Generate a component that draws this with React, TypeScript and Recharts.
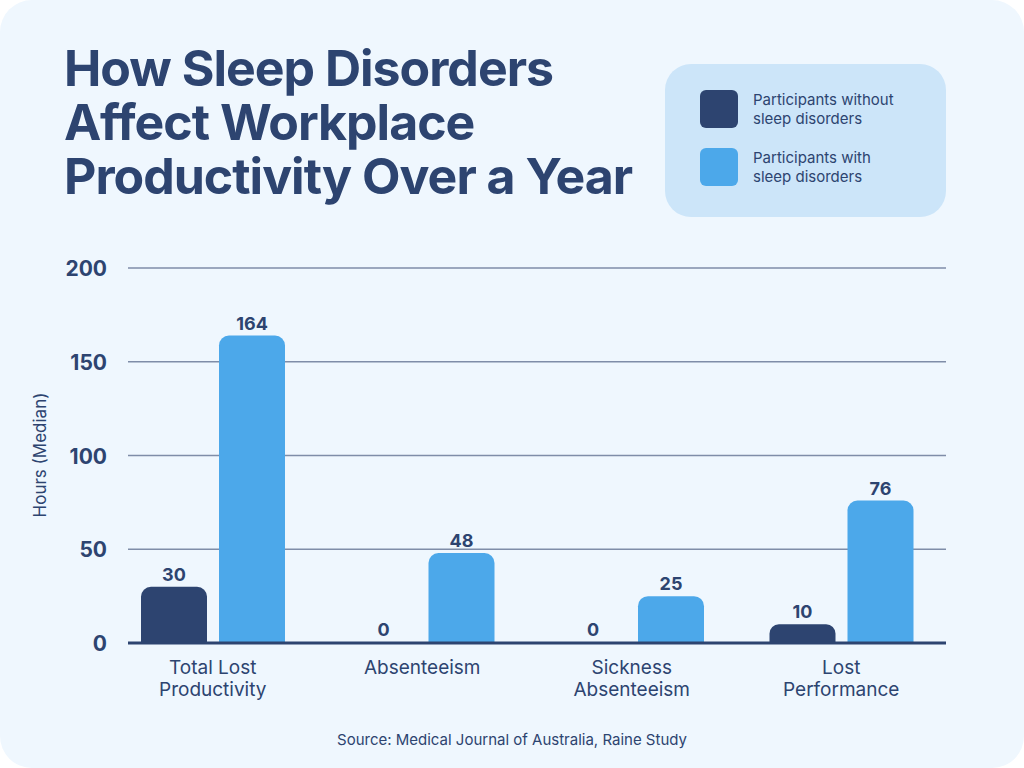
import { BarChart, Bar, XAxis, YAxis, CartesianGrid, LabelList } from "recharts";

const categories = ["Total Lost Productivity", "Absenteeism", "Sickness Absenteeism", "Lost Performance"];
const tickLines = [["Total Lost", "Productivity"], ["Absenteeism"], ["Sickness", "Absenteeism"], ["Lost", "Performance"]];
const withoutDisorders = [30, 0, 0, 10];
const withDisorders = [164, 48, 25, 76];
const yTicks = [0, 50, 100, 150, 200];

const NAVY = "#2D4470";
const BLUE = "#4CA8EA";
const FONT = "Inter, 'Noto Sans', sans-serif";

const data = categories.map((name, i) => ({
  name,
  without: withoutDisorders[i],
  with: withDisorders[i],
}));

const XTick = (props: any) => {
  const { x, y, index } = props;
  const lines = tickLines[index] || [];
  return (
    <g>
      {lines.map((line, i) => (
        <text
          key={i}
          x={x}
          y={y + 23 + i * 22}
          textAnchor="middle"
          fill={NAVY}
          fontSize={19}
          fontFamily={FONT}
        >
          {line}
        </text>
      ))}
    </g>
  );
};

const YTick = (props: any) => {
  const { y, payload } = props;
  return (
    <text x={107} y={y + 8} textAnchor="end" fill={NAVY} fontSize={21} fontWeight={700} fontFamily={FONT}>
      {payload.value}
    </text>
  );
};

// value above each bar
const ValueLabel = (props: any) => {
  const { x, y, width, value } = props;
  return (
    <text x={x + width / 2} y={y - 6} textAnchor="middle" fill={NAVY} fontSize={18} fontWeight={700} fontFamily={FONT}>
      {value}
    </text>
  );
};

// zero values keep a 1px bar (hidden under the axis line) so their label is still drawn
const minSize = (value: any) => (value === 0 ? 1 : 0);

const legendItems = [
  { color: NAVY, lines: ["Participants without", "sleep disorders"] },
  { color: BLUE, lines: ["Participants with", "sleep disorders"] },
];

export default function App() {
  return (
    <div style={{ position: "absolute", left: 0, top: 0, width: 1024, height: 768, background: "#ffffff" }}>
      <div
        style={{
          position: "absolute",
          inset: 0,
          background: "#EFF7FE",
          borderRadius: 32,
          fontFamily: FONT,
        }}
      >
        {/* title */}
        <div
          style={{
            position: "absolute",
            left: 64,
            top: 41,
            fontSize: 50,
            lineHeight: "54px",
            fontWeight: 700,
            letterSpacing: -1,
            color: NAVY,
          }}
        >
          How Sleep Disorders
          <br />
          Affect Workplace
          <br />
          Productivity Over a Year
        </div>

        {/* legend */}
        <div
          style={{
            position: "absolute",
            left: 665,
            top: 64,
            width: 281,
            height: 153,
            background: "#CCE5F9",
            borderRadius: 26,
          }}
        >
          {legendItems.map((item, i) => (
            <div key={i} style={{ position: "absolute", left: 35, top: 26 + i * 58, display: "flex" }}>
              <div style={{ width: 38, height: 38, borderRadius: 6, background: item.color }} />
              <div style={{ marginLeft: 15, marginTop: 0, fontSize: 15, lineHeight: "19px", color: NAVY }}>
                {item.lines[0]}
                <br />
                {item.lines[1]}
              </div>
            </div>
          ))}
        </div>

        {/* y axis title */}
        <div
          style={{
            position: "absolute",
            left: 40,
            top: 455,
            transform: "translate(-50%, -50%) rotate(-90deg)",
            fontSize: 17,
            color: NAVY,
            whiteSpace: "nowrap",
          }}
        >
          Hours (Median)
        </div>

        <div style={{ position: "absolute", left: 0, top: 240 }}>
          <BarChart
            width={1024}
            height={480}
            data={data}
            margin={{ top: 28, right: 78, left: 0, bottom: 0 }}
            barSize={66}
            barGap={12}
          >
            <CartesianGrid vertical={false} stroke="#7F8DA8" strokeWidth={1.5} />
            <Bar dataKey="without" fill={NAVY} radius={[10, 10, 0, 0]} minPointSize={minSize} isAnimationActive={false}>
              <LabelList dataKey="without" content={<ValueLabel />} />
            </Bar>
            <Bar dataKey="with" fill={BLUE} radius={[10, 10, 0, 0]} minPointSize={minSize} isAnimationActive={false}>
              <LabelList dataKey="with" content={<ValueLabel />} />
            </Bar>
            <XAxis
              dataKey="name"
              height={77}
              padding={{ left: -20, right: 0 }}
              axisLine={{ stroke: NAVY, strokeWidth: 3 }}
              tickLine={false}
              tick={<XTick />}
              interval={0}
            />
            <YAxis
              width={128}
              domain={[0, 200]}
              ticks={yTicks}
              axisLine={false}
              tickLine={false}
              tick={<YTick />}
            />
          </BarChart>
        </div>

        {/* source */}
        <div
          style={{
            position: "absolute",
            left: 0,
            width: 1024,
            top: 730,
            textAlign: "center",
            fontSize: 15,
            color: NAVY,
          }}
        >
          Source: Medical Journal of Australia, Raine Study
        </div>
      </div>
    </div>
  );
}
